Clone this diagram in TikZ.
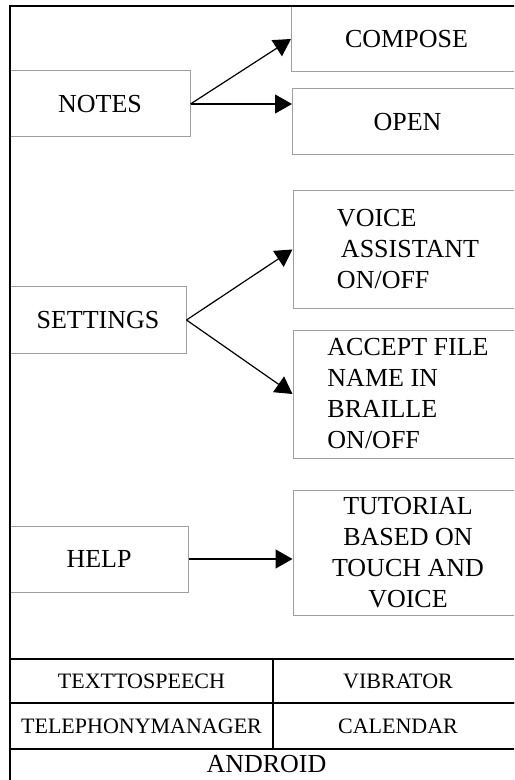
\documentclass[tikz,border=0pt]{standalone}
\usepackage{fontspec}
\setmainfont{Liberation Serif}
\usetikzlibrary{arrows.meta,positioning}

\begin{document}
\begin{tikzpicture}[x=0.5pt, y=-0.5pt,
    box/.style={rectangle, draw=gray!75, line width=0.5pt, inner sep=0pt, minimum width=115pt, align=center, font=\fontsize{13}{15.5}\selectfont},
    menubox/.style={rectangle, draw=gray!75, line width=0.5pt, inner sep=0pt, minimum height=33pt, font=\fontsize{13}{15.5}\selectfont},
    cell/.style={rectangle, draw=black, line width=1pt, inner sep=0pt, font=\fontsize{11}{13}\selectfont},
    arrow/.style={-{Triangle[length=8.5pt,width=9.5pt]}, line width=0.6pt}
]
\clip (0,0) rectangle (514,780);
\node[menubox, minimum width=90pt] (notes) at (100,104) {NOTES};
\node[box, minimum height=33pt] (compose) at (406.5,39) {COMPOSE};
\node[box, minimum height=33pt] (open) at (407.5,122) {OPEN};
\node[menubox, minimum width=88pt] (settings) at (98,320) {SETTINGS};
\node[box, minimum height=58.5pt, align=left] (voice) at (408,249.5) {VOICE\\\hspace*{2pt}ASSISTANT\\ON/OFF};
\node[box, minimum height=64pt, align=left] (accept) at (408,394) {ACCEPT FILE\\NAME IN\\BRAILLE\\ON/OFF};
\node[menubox, minimum width=89pt] (help) at (99,559) {HELP};
\node[box, minimum height=62.5pt] (tutorial) at (408,552.5) {TUTORIAL\\BASED ON\\TOUCH AND\\VOICE};
\draw[arrow] (notes.east) -- (compose.west);
\draw[arrow] (notes.east) -- (notes.east -| open.west);
\draw[arrow] (settings.east) -- (voice.west);
\draw[arrow] (settings.east) -- (accept.west);
\draw[arrow] (help.east) -- (help.east -| tutorial.west);
\node[cell, minimum width=131.5pt, minimum height=22pt] (tts) at (141.5,681) {TEXTTOSPEECH};
\node[cell, minimum width=125pt, minimum height=22pt] (vibrator) at (398,681) {VIBRATOR};
\node[cell, minimum width=131.5pt, minimum height=23pt] (telephony) at (141.5,726) {TELEPHONYMANAGER};
\node[cell, minimum width=125pt, minimum height=23pt] (calendar) at (398,726) {CALENDAR};
\node[font=\fontsize{13}{15.5}\selectfont, inner sep=0pt] (android) at (266.5,764) {ANDROID};
\draw[line width=1pt] (10,6) rectangle (523,800);
\end{tikzpicture}
\end{document}
